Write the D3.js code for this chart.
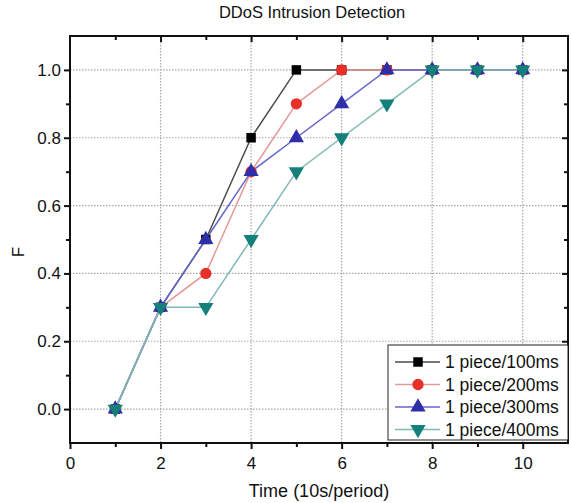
<!DOCTYPE html>
<html>
<head>
<meta charset="utf-8">
<script src="https://cdn.jsdelivr.net/npm/d3@7"></script>
<style>
  body { margin: 0; background: #fff; }
  text { font-family: "Liberation Sans", Arial, sans-serif; fill: #111; }
</style>
</head>
<body>
<svg width="571" height="503"></svg>
<script>
// data
const periods = [1, 2, 3, 4, 5, 6, 7, 8, 9, 10];
const f100 = [0, 0.3, 0.5, 0.8, 1.0, 1.0, 1.0, 1.0, 1.0, 1.0];
const f200 = [0, 0.3, 0.4, 0.7, 0.9, 1.0, 1.0, 1.0, 1.0, 1.0];
const f300 = [0, 0.3, 0.5, 0.7, 0.8, 0.9, 1.0, 1.0, 1.0, 1.0];
const f400 = [0, 0.3, 0.3, 0.5, 0.7, 0.8, 0.9, 1.0, 1.0, 1.0];
const seriesNames = ["1 piece/100ms", "1 piece/200ms", "1 piece/300ms", "1 piece/400ms"];
const xTicks = [0, 2, 4, 6, 8, 10];
const yTicks = [0, 0.2, 0.4, 0.6, 0.8, 1.0];

const series = [
  { name: seriesNames[0], values: f100, line: "#4a4a4a", fill: "#000", shape: d3.symbolSquare, rot: 0 },
  { name: seriesNames[1], values: f200, line: "#e59a98", fill: "#e8302a", shape: d3.symbolCircle, rot: 0 },
  { name: seriesNames[2], values: f300, line: "#6565cc", fill: "#2e2ea8", shape: d3.symbolTriangle, rot: 0 },
  { name: seriesNames[3], values: f400, line: "#7fb8b4", fill: "#14807c", shape: d3.symbolTriangle, rot: 180 }
];

const svg = d3.select("svg");
const mLeft = 70, mRight = 568, mTop = 36, mBottom = 443;

const x = d3.scaleLinear().domain([0, 11]).range([mLeft, mRight]);
const y = d3.scaleLinear().domain([-0.1, 1.1]).range([mBottom, mTop]);

// grid
const grid = svg.append("g").attr("stroke", "#a8a8a8").attr("stroke-width", 1.2)
  .attr("stroke-dasharray", "1.5,1.5");
grid.selectAll(".gx").data(xTicks.filter(d => d > 0)).enter().append("line")
  .attr("x1", d => x(d)).attr("x2", d => x(d)).attr("y1", mTop).attr("y2", mBottom);
grid.selectAll(".gy").data(yTicks).enter().append("line")
  .attr("x1", mLeft).attr("x2", mRight).attr("y1", d => y(d)).attr("y2", d => y(d));

// axes
const xAxis = svg.append("g").attr("transform", `translate(0,${mBottom})`)
  .call(d3.axisBottom(x).tickValues(xTicks).tickSize(6).tickSizeOuter(0).tickFormat(d3.format("d")));
const xMinor = svg.append("g").attr("transform", `translate(0,${mBottom})`)
  .call(d3.axisBottom(x).tickValues([1, 3, 5, 7, 9]).tickSize(4).tickSizeOuter(0).tickFormat(""));
const yAxis = svg.append("g").attr("transform", `translate(${mLeft},0)`)
  .call(d3.axisLeft(y).tickValues(yTicks).tickSize(6).tickSizeOuter(0).tickFormat(d3.format(".1f")));
const yMinor = svg.append("g").attr("transform", `translate(${mLeft},0)`)
  .call(d3.axisLeft(y).tickValues([0.1, 0.3, 0.5, 0.7, 0.9]).tickSize(4).tickSizeOuter(0).tickFormat(""));
const xTop = svg.append("g").attr("transform", `translate(0,${mTop})`)
  .call(d3.axisBottom(x).tickValues(xTicks.filter(d => d > 0)).tickSize(6).tickSizeOuter(0).tickFormat(""));
const xTopMinor = svg.append("g").attr("transform", `translate(0,${mTop})`)
  .call(d3.axisBottom(x).tickValues([1, 3, 5, 7, 9]).tickSize(4).tickSizeOuter(0).tickFormat(""));
const yRight = svg.append("g").attr("transform", `translate(${mRight},0)`)
  .call(d3.axisLeft(y).tickValues(yTicks).tickSize(6).tickSizeOuter(0).tickFormat(""));
yRight.selectAll(".tick line").attr("x2", -6);
const yRightMinor = svg.append("g").attr("transform", `translate(${mRight},0)`)
  .call(d3.axisLeft(y).tickValues([0.1, 0.3, 0.5, 0.7, 0.9]).tickSize(4).tickSizeOuter(0).tickFormat(""));
yRightMinor.selectAll(".tick line").attr("x2", -4);

[xAxis, xMinor, yAxis, yMinor, xTop, xTopMinor, yRight, yRightMinor].forEach(a => {
  a.selectAll(".domain").remove();
  a.selectAll(".tick line").attr("stroke", "#111").attr("stroke-width", 2);
  a.selectAll("text").attr("font-size", 17).style("fill", "#111");
});
xAxis.selectAll("text").attr("dy", "1.0em");
yAxis.selectAll("text").attr("x", -9);

// frame
svg.append("rect").attr("x", mLeft).attr("y", mTop)
  .attr("width", mRight - mLeft).attr("height", mBottom - mTop)
  .attr("fill", "none").attr("stroke", "#111").attr("stroke-width", 2);

// lines + markers
const line = d3.line().x((d, i) => x(periods[i])).y(d => y(d));
series.forEach(s => {
  svg.append("path").datum(s.values).attr("d", line)
    .attr("fill", "none").attr("stroke", s.line).attr("stroke-width", 1.5);
});
series.forEach(s => {
  svg.append("g").selectAll("path").data(s.values).enter().append("path")
    .attr("d", d3.symbol().type(s.shape).size(s.shape === d3.symbolSquare ? 90 : 100))
    .attr("transform", (d, i) => `translate(${x(periods[i])},${y(d)}) rotate(${s.rot})`)
    .attr("fill", s.fill);
});

// legend
const lg = svg.append("g");
lg.append("rect").attr("x", 388).attr("y", 345).attr("width", mRight - 388).attr("height", 95)
  .attr("fill", "#fff").attr("stroke", "#222").attr("stroke-width", 1);
series.forEach((s, i) => {
  const ly = 362 + i * 22.5;
  lg.append("line").attr("x1", 395).attr("x2", 440).attr("y1", ly).attr("y2", ly)
    .attr("stroke", s.line).attr("stroke-width", 1.5);
  lg.append("path").attr("d", d3.symbol().type(s.shape).size(s.shape === d3.symbolSquare ? 90 : 100))
    .attr("transform", `translate(418,${ly}) rotate(${s.rot})`).attr("fill", s.fill);
  lg.append("text").attr("x", 445).attr("y", ly).attr("dy", "0.36em")
    .attr("font-size", 17.5).text(s.name);
});

// titles
svg.append("text").attr("x", 312).attr("y", 18).attr("text-anchor", "middle")
  .attr("font-size", 16.5).text("DDoS Intrusion Detection");
svg.append("text").attr("x", 319).attr("y", 497).attr("text-anchor", "middle")
  .attr("font-size", 18).text("Time (10s/period)");
svg.append("text").attr("transform", "translate(24,252) rotate(-90)").attr("text-anchor", "middle")
  .attr("font-size", 17).text("F");
</script>
</body>
</html>
